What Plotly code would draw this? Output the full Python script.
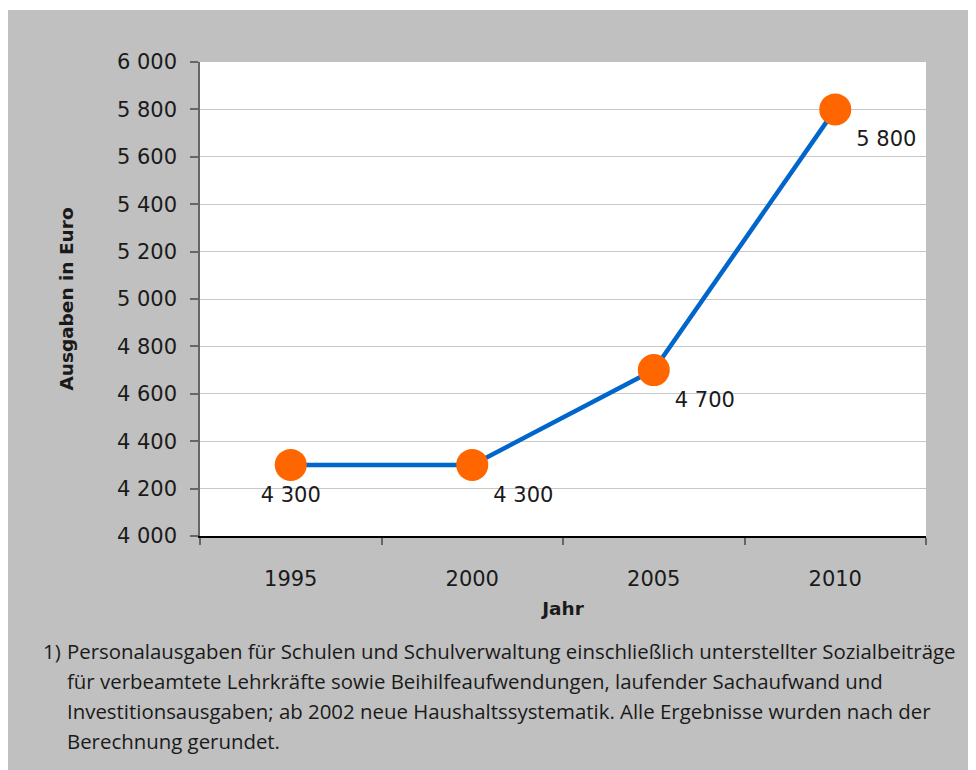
import plotly.graph_objects as go

years = ["1995", "2000", "2005", "2010"]
ausgaben = [4300, 4300, 4700, 5800]
labels = ["4 300", "4 300", "4 700", "5 800"]
label_pos = ["bottom center", "bottom right", "bottom right", "bottom right"]

footnote_lines = [
    "Personalausgaben für Schulen und Schulverwaltung einschließlich unterstellter Sozialbeiträge",
    "für verbeamtete Lehrkräfte sowie Beihilfeaufwendungen, laufender Sachaufwand und",
    "Investitionsausgaben; ab 2002 neue Haushaltssystematik. Alle Ergebnisse wurden nach der",
    "Berechnung gerundet.",
]

# page has an 8px body margin, so figure origin sits at (8, 8) on screen
OFF = 8
W, H = 968, 762
L, R, T, B = 192, 50, 54, 234
pw, ph = W - L - R, H - T - B

def px(x):  # screen x -> paper
    return (x - OFF - L) / pw

def py(y):  # screen y -> paper
    return (H - B - (y - OFF)) / ph

FONT = "DejaVu Sans"
FOOT = "Open Sans"
TXT = "#1a1a1a"

fig = go.Figure()
fig.add_trace(go.Scatter(
    x=years, y=ausgaben, mode="lines+markers+text",
    line=dict(color="#0066cc", width=4.5),
    marker=dict(color="#ff6600", size=32),
    text=labels, textposition=label_pos,
    textfont=dict(family=FONT, size=21, color=TXT),
    cliponaxis=False, hoverinfo="skip",
))

shapes = [
    dict(type="rect", xref="paper", yref="paper", x0=px(0), x1=px(990), y0=py(10), y1=py(0),
         fillcolor="white", line=dict(width=0), layer="below"),
]

annotations = [
    dict(text="1)", xref="paper", yref="paper", x=px(41), y=py(651), xanchor="left", yanchor="middle",
         showarrow=False, font=dict(family=FOOT, size=20.4, color=TXT)),
]
for i, line in enumerate(footnote_lines):
    annotations.append(dict(text=line, xref="paper", yref="paper", x=px(65), y=py(651 + 30 * i),
                            xanchor="left", yanchor="middle", showarrow=False,
                            font=dict(family=FOOT, size=20.4, color=TXT)))

fig.update_layout(
    width=W, height=H,
    margin=dict(l=L, r=R, t=T, b=B),
    paper_bgcolor="#c0c0c0", plot_bgcolor="white",
    separators=", ",
    showlegend=False,
    shapes=shapes, annotations=annotations,
    font=dict(family=FONT, size=21, color=TXT),
    xaxis=dict(
        type="category", tickson="boundaries", range=[-0.5, 3.5],
        showline=True, linecolor="#000000", linewidth=1.5,
        ticks="outside", ticklen=7, tickcolor="#666666", tickwidth=2,
        showgrid=False, tickfont=dict(family=FONT, size=21, color=TXT),
        ticklabelstandoff=23,
        title=dict(text="<b>Jahr</b>", font=dict(family=FONT, size=18.5, color=TXT), standoff=12),
    ),
    yaxis=dict(
        range=[4000, 6000], dtick=200, tickformat=",d",
        showline=True, linecolor="#666666", linewidth=1.5,
        ticks="outside", ticklen=8, tickcolor="#666666", tickwidth=1.5,
        showgrid=True, gridcolor="#c8c8c8", gridwidth=1, zeroline=False,
        tickfont=dict(family=FONT, size=21, color=TXT),
        ticklabelstandoff=9,
        title=dict(text="<b>Ausgaben in Euro</b>", font=dict(family=FONT, size=18.5, color=TXT), standoff=38),
    ),
)

fig.write_html("out.html")
